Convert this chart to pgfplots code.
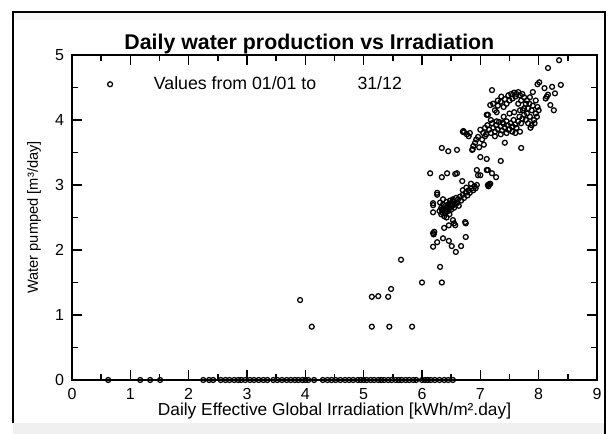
\documentclass[border=0pt]{standalone}
\usepackage{pgfplots}
\pgfplotsset{compat=1.18}
\usepackage{fontspec}
\setmainfont{Liberation Sans}
\begin{document}
\begin{tikzpicture}
\useasboundingbox (0,0) rectangle (458.25pt,325.5pt);
\fill[white] (0,0) rectangle (458.25pt,325.5pt);
\fill[gray!12] (9.75pt,0) rectangle (453.75pt,8pt);
\fill[gray!7] (9.75pt,310.5pt) rectangle (453.75pt,316.5pt);
\draw[line width=1.1pt] (9.75pt,8pt) -- (9.75pt,316.5pt) -- (453.75pt,316.5pt) -- (453.75pt,0pt);
\begin{axis}[
  at={(54pt,40.5pt)}, anchor=south west,
  scale only axis, width=393.75pt, height=243.75pt,
  xmin=0, xmax=9, ymin=0, ymax=5,
  xtick={0,...,9}, ytick={0,...,5}, minor tick num=1,
  tick align=inside,
  major tick length=7.5pt, minor tick length=4.5pt,
  axis line style={line width=2pt},
  every tick/.style={line width=1.1pt, black},
  axis on top, clip=false,
  /pgf/number format/assume math mode=true,
  tick label style={font=\fontsize{12}{14}\selectfont},
  yticklabel style={xshift=-2.5pt},
  xticklabel style={yshift=-3pt},
  xlabel={Daily Effective Global Irradiation [kWh/m².day]},
  ylabel={Water pumped [m³/day]},
  xlabel style={at={(axis description cs:0.5,-0.097)}, anchor=center, font=\fontsize{13}{15}\selectfont},
  ylabel style={at={(axis description cs:-0.0724,0.5)}, anchor=center, font=\fontsize{11}{13}\selectfont},
  legend style={at={(axis cs:0.67,4.55)}, xshift=-2.6pt, anchor=west, draw=none, fill=none,
    inner sep=0pt, outer sep=0pt, nodes={inner sep=0pt}, font=\fontsize{13.3}{15}\selectfont,
    /tikz/every odd column/.append style={column sep=31pt}},
  legend image code/.code={\draw[#1] plot coordinates {(0pt,0pt)};},
]
\addplot[only marks, mark=o, mark size=1.85pt, line width=0.95pt, black] coordinates {
(3.91,1.23) (4.11,0.82) (5.14,0.82) (5.14,1.28) (5.25,1.29) (5.42,1.28) (5.47,1.40) (5.44,0.82)
(5.64,1.85) (5.83,0.82) (6.00,1.50) (6.34,1.50) (6.31,1.74)
(6.19,2.05) (6.26,2.12) (6.36,2.18) (6.19,2.26) (6.20,2.24) (6.21,2.28) (6.38,2.34) (6.46,2.38)
(6.55,2.41) (6.46,2.14) (6.51,2.06) (6.58,1.97) (6.67,2.06) (6.75,2.41) (6.75,2.20) (6.53,2.46)
(6.57,2.38) (6.74,2.43)
(6.19,2.58) (6.19,2.69) (6.19,2.72) (6.26,2.85) (6.26,2.88) (6.14,3.18) (6.34,3.12) (6.43,3.18)
(6.57,3.17) (6.69,3.06) (6.60,3.18)
(6.30,2.60) (6.33,2.65) (6.35,2.58) (6.36,2.70) (6.38,2.62) (6.40,2.68) (6.40,2.56) (6.42,2.74)
(6.43,2.64) (6.45,2.60) (6.45,2.70) (6.47,2.66) (6.48,2.76) (6.50,2.62) (6.50,2.72) (6.52,2.68)
(6.53,2.78) (6.55,2.65) (6.55,2.74) (6.57,2.70) (6.58,2.80) (6.60,2.72) (6.62,2.78) (6.63,2.68)
(6.65,2.82) (6.67,2.76) (6.33,2.55) (6.38,2.52) (6.42,2.50) (6.47,2.55) (6.36,2.78) (6.31,2.73)
(6.37,2.64) (6.41,2.61) (6.44,2.67) (6.49,2.69) (6.39,2.59) (6.46,2.63) (6.52,2.75) (6.34,2.62)
(6.70,2.85) (6.72,2.80) (6.75,2.88) (6.78,2.84) (6.80,2.92) (6.82,2.88) (6.85,2.95) (6.88,2.92)
(6.90,2.98) (6.92,2.95) (6.94,3.00) (6.70,2.92) (6.76,2.96) (6.84,3.02)
(7.13,3.00) (7.15,3.01) (7.14,2.98) (7.17,3.02)
(6.94,3.23) (6.96,3.15) (7.13,3.23) (7.20,3.18) (7.27,3.12) (7.00,3.15) (7.11,3.23)
(7.00,3.43) (7.11,3.40) (7.35,3.37) (7.42,3.65) (7.70,3.57)
(6.34,3.57) (6.45,3.52) (6.60,3.54) (6.70,3.82) (6.71,3.83) (6.72,3.81) (6.82,3.80) (6.86,3.54)
(6.87,3.55) (6.91,3.65) (6.96,3.74) (7.00,3.85) (6.88,3.60) (6.93,3.70) (6.77,3.78) (6.80,3.75)
(7.03,3.70) (7.06,3.62) (7.08,3.75) (6.98,3.58)
(7.20,4.46) (7.17,4.23) (7.11,4.08) (7.13,4.08)
(7.05,3.80) (7.08,3.88) (7.10,3.78) (7.12,3.92) (7.15,3.85) (7.18,3.80) (7.20,3.95) (7.22,3.88)
(7.25,3.82) (7.27,3.92) (7.30,3.86) (7.32,3.97) (7.35,3.90) (7.37,3.84) (7.40,3.94) (7.42,3.88)
(7.45,3.98) (7.47,3.92) (7.50,3.86) (7.52,3.95) (7.55,3.90) (7.57,4.00) (7.60,3.93) (7.62,3.88)
(7.65,3.98) (7.67,4.05) (7.70,3.95) (7.72,4.02) (7.75,4.08) (7.78,4.00) (7.80,4.10) (7.25,3.75)
(7.35,3.78) (7.45,3.80) (7.55,3.82) (7.60,3.80) (7.48,3.85) (7.38,3.96) (7.28,3.98) (7.18,4.00)
(7.40,4.05) (7.50,4.10) (7.58,4.12) (7.68,4.15) (7.85,4.05) (7.88,4.15) (7.90,4.22) (7.82,3.95)
(7.25,4.15) (7.30,4.22) (7.35,4.28) (7.40,4.20) (7.42,4.32) (7.45,4.25) (7.48,4.38) (7.50,4.30)
(7.53,4.40) (7.55,4.33) (7.58,4.42) (7.60,4.36) (7.62,4.40) (7.65,4.43) (7.68,4.38) (7.70,4.30)
(7.72,4.40) (7.75,4.35) (7.78,4.25) (7.80,4.30) (7.30,4.30) (7.36,4.36) (7.22,4.25) (7.28,4.12)
(7.65,4.25) (7.85,4.35) (7.90,4.43) (7.82,4.18) (7.75,4.18) (7.95,4.30)
(7.92,4.00) (7.95,4.10) (7.98,4.20) (8.00,4.15) (7.93,3.95) (7.86,3.88) (7.84,4.25) (7.68,3.82)
(7.97,4.05) (7.88,3.92) (7.73,4.15)
(8.35,4.92) (8.16,4.80) (8.38,4.54) (8.23,4.51) (7.98,4.55) (8.01,4.58) (8.14,4.36) (8.12,4.33)
(8.16,4.39) (8.28,4.41) (8.26,4.15) (8.10,4.49) (8.20,4.23)
};
\addlegendentry{Values from 01/01 to\hspace{31pt}31/12}
\addplot[only marks, mark=o, mark size=1.85pt, line width=0.95pt, black, forget plot] coordinates {
(0.62,0) (1.17,0) (1.34,0) (1.51,0) (2.25,0) (2.35,0) (2.42,0) (2.55,0) (2.63,0) (2.70,0)
(2.78,0) (2.85,0) (2.90,0) (2.97,0) (3.05,0) (3.12,0) (3.20,0) (3.28,0) (3.35,0) (3.45,0)
(3.52,0) (3.60,0) (3.68,0) (3.75,0) (3.82,0) (3.88,0) (3.95,0) (4.00,0) (4.05,0) (4.15,0)
(4.30,0) (4.38,0) (4.45,0) (4.52,0) (4.60,0) (4.68,0) (4.75,0) (4.82,0) (4.90,0) (4.95,0)
(5.00,0) (5.05,0) (5.12,0) (5.18,0) (5.25,0) (5.30,0) (5.35,0) (5.42,0) (5.48,0) (5.55,0)
(5.60,0) (5.65,0) (5.72,0) (5.78,0) (5.85,0) (5.90,0) (6.00,0) (6.05,0) (6.10,0) (6.15,0)
(6.22,0) (6.30,0) (6.38,0) (6.45,0) (6.53,0)
};
\end{axis}
\node[font=\bfseries\fontsize{16}{19}\selectfont, anchor=base] at (232pt,288pt) {Daily water production vs Irradiation};
\end{tikzpicture}
\end{document}
